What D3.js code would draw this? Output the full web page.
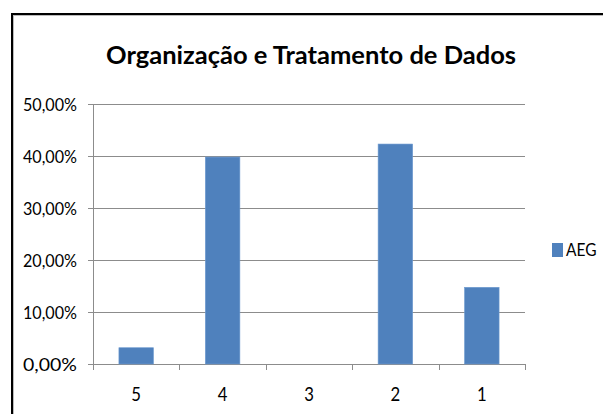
<!DOCTYPE html>
<html>
<head>
<meta charset="utf-8">
<script src="https://cdn.jsdelivr.net/npm/d3@7"></script>
<style>
  body { margin: 0; background: #fff; }
  text { font-family: Lato, "Open Sans", sans-serif; fill: #000; }
</style>
</head>
<body>
<div id="chart"></div>
<script>
var categories = ["5", "4", "3", "2", "1"];
var values = [0.0313, 0.398, 0, 0.423, 0.1475];
var yTicks = [0, 0.1, 0.2, 0.3, 0.4, 0.5];
var seriesName = "AEG";
var title = "Organização e Tratamento de Dados";

var W = 603, H = 414;
var margin = {top: 104, right: 78, bottom: 50, left: 93},
    width = W - margin.left - margin.right,
    height = H - margin.top - margin.bottom;

var root = d3.select("#chart")
  .append("svg")
    .attr("width", W)
    .attr("height", H);

// narrow the glyphs a bit, the original font is condensed
function squeeze(sel, k) {
  sel.each(function() {
    var w = this.getComputedTextLength();
    d3.select(this).attr("textLength", w * k).attr("lengthAdjust", "spacingAndGlyphs");
  });
}

// chart frame
root.append("rect")
  .attr("x", 13.5).attr("y", 15.5)
  .attr("width", 600).attr("height", 410)
  .attr("fill", "none")
  .attr("stroke", "#bbb")
  .attr("stroke-width", 1);
root.append("rect")
  .attr("x", 12).attr("y", 14)
  .attr("width", 600).attr("height", 410)
  .attr("fill", "none")
  .attr("stroke", "#000")
  .attr("stroke-width", 2);

root.append("text")
  .attr("x", 311)
  .attr("y", 64)
  .attr("text-anchor", "middle")
  .style("font-size", "25px")
  .style("font-weight", "bold")
  .text(title)
  .attr("textLength", 410)
  .attr("lengthAdjust", "spacingAndGlyphs");

var svg = root.append("g")
  .attr("transform", "translate(" + margin.left + "," + margin.top + ")");

var x = d3.scaleBand()
  .domain(categories)
  .range([0, width])
  .paddingInner(0.6)
  .paddingOuter(0.3);

var y = d3.scaleLinear()
  .domain([0, 0.5])
  .range([height, 0]);

// gridlines
svg.selectAll("gridline")
  .data(yTicks.slice(1))
  .enter()
  .append("line")
    .attr("x1", 0)
    .attr("x2", width)
    .attr("y1", function(d) { return Math.round(y(d)) + 0.5; })
    .attr("y2", function(d) { return Math.round(y(d)) + 0.5; })
    .attr("stroke", "#8c8c8c");

var fmt = function(d) { return d3.format(".2f")(d * 100).replace(".", ",") + "%"; };

var yAxis = svg.append("g")
  .call(d3.axisLeft(y).tickValues(yTicks).tickFormat(fmt).tickSize(5).tickPadding(11));
yAxis.select(".domain").attr("stroke", "#8c8c8c").attr("d", "M0.5,0V" + height);
yAxis.selectAll(".tick line").attr("stroke", "#8c8c8c");
yAxis.selectAll("text")
  .style("font-size", "18px")
  .attr("fill", "#111")
  .attr("dy", "0.34em")
  .attr("textLength", 54)
  .attr("lengthAdjust", "spacingAndGlyphs");

var xAxis = svg.append("g")
  .attr("transform", "translate(0," + height + ")")
  .call(d3.axisBottom(x).tickSize(0).tickPadding(0));
xAxis.select(".domain").attr("stroke", "#8c8c8c").attr("d", "M0,0.5H" + width);
xAxis.selectAll("text")
  .attr("y", 37)
  .attr("dy", null)
  .style("font-size", "19px")
  .attr("fill", "#111");
squeeze(xAxis.selectAll("text"), 0.88);

// category separator ticks
var step = x.step();
svg.selectAll("xsep")
  .data(d3.range(categories.length + 1))
  .enter()
  .append("line")
    .attr("x1", function(i) { return Math.round(i * step) + 0.5; })
    .attr("x2", function(i) { return Math.round(i * step) + 0.5; })
    .attr("y1", height)
    .attr("y2", height + 6)
    .attr("stroke", "#8c8c8c");

svg.selectAll("bar")
  .data(values)
  .enter()
  .append("rect")
    .attr("x", function(d, i) { return x(categories[i]); })
    .attr("width", x.bandwidth())
    .attr("y", function(d) { return y(d); })
    .attr("height", function(d) { return height - y(d); })
    .attr("fill", "#4f81bd")
    .attr("stroke", "#6f9bd0")
    .attr("stroke-width", 0.6);

// legend
var legend = root.append("g");
legend.append("rect")
  .attr("x", 552).attr("y", 243)
  .attr("width", 11).attr("height", 14)
  .attr("fill", "#4f81bd");
var lt = legend.append("text")
  .attr("x", 566).attr("y", 256)
  .style("font-size", "18px")
  .text(seriesName);
squeeze(lt, 0.86);
</script>
</body>
</html>
